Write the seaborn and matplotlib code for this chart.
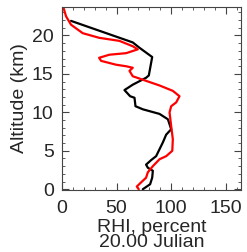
import numpy as np
import pandas as pd
import matplotlib
matplotlib.use("Agg")
import matplotlib.pyplot as plt
import seaborn as sns
from matplotlib.ticker import MultipleLocator

# black profile (RHI %, altitude km)
black_rhi = [74, 80.7, 82.6, 83.2, 78.6, 77, 81.7, 86.2, 89.3, 92.4, 95.4, 100, 97, 89.3, 74,
             67.3, 66.4, 62.4, 57.2, 64.8, 77, 79.5, 82.6, 71, 64.8, 8.3]
black_alt = [0, 0.65, 1.5, 2.4, 2.8, 3.2, 3.8, 4.3, 5.2, 6.1, 7.1, 7.8, 9.1, 9.8, 10.4,
             10.8, 11.9, 12.1, 12.9, 13.6, 14.5, 14.8, 17.2, 18.4, 19.1, 21.9]

# red profile
red_rhi = [70.3, 68.5, 72.5, 77, 78.6, 83.2, 89.3, 95.4, 101, 101.5, 100, 98.5, 100, 104.6,
           107.6, 101.5, 89.3, 77, 64.8, 61.8, 64.8, 58.7, 49.5, 35.8, 34, 43.4, 58.7,
           69.4, 64.8, 52.6, 34, 19, 8.3, 3.7, 1.2]
red_alt = [0, 0.35, 0.9, 1.5, 2.2, 3.0, 3.9, 4.3, 5.0, 6.5, 8.2, 10.0, 10.8, 11.3,
           12.1, 12.8, 13.5, 14.1, 14.7, 15.4, 15.8, 16.0, 16.2, 16.7, 17.1, 17.5, 17.7,
           18.2, 18.6, 19.3, 19.7, 20.3, 21.4, 22.5, 23.7]

sns.set_style("ticks")
plt.rcParams['font.family'] = ['Liberation Sans', 'DejaVu Sans']

fig = plt.figure(figsize=(2.47, 2.52), dpi=100)
ax = fig.add_axes([0.251, 0.246, 0.725, 0.726])

sns.lineplot(x=black_rhi, y=black_alt, sort=False, estimator=None, color='black', lw=1.6, ax=ax)
sns.lineplot(x=red_rhi, y=red_alt, sort=False, estimator=None, color='red', lw=1.6, ax=ax)

ax.set_xlim(0, 164)
ax.set_ylim(-0.1, 23.7)
ax.xaxis.set_major_locator(MultipleLocator(50))
ax.xaxis.set_minor_locator(MultipleLocator(10))
ax.yaxis.set_major_locator(MultipleLocator(5))
ax.yaxis.set_minor_locator(MultipleLocator(1))
ax.tick_params(which='both', direction='in', top=True, right=True, labelsize=14, color='#444444')
ax.tick_params(which='major', length=5, width=0.8)
ax.tick_params(which='minor', length=2.5, width=0.6)
ax.tick_params(axis='x', which='major', pad=7)
ax.tick_params(axis='y', which='major', pad=6)
for s in ax.spines.values():
    s.set_linewidth(0.8)
    s.set_color('#444444')
ax.set_xlabel('RHI, percent\n20.00 Julian', fontsize=14, labelpad=1.5, linespacing=0.85)
ax.set_ylabel('Altitude (km)', fontsize=14, labelpad=3)

fig.savefig('out.png', dpi=100)
